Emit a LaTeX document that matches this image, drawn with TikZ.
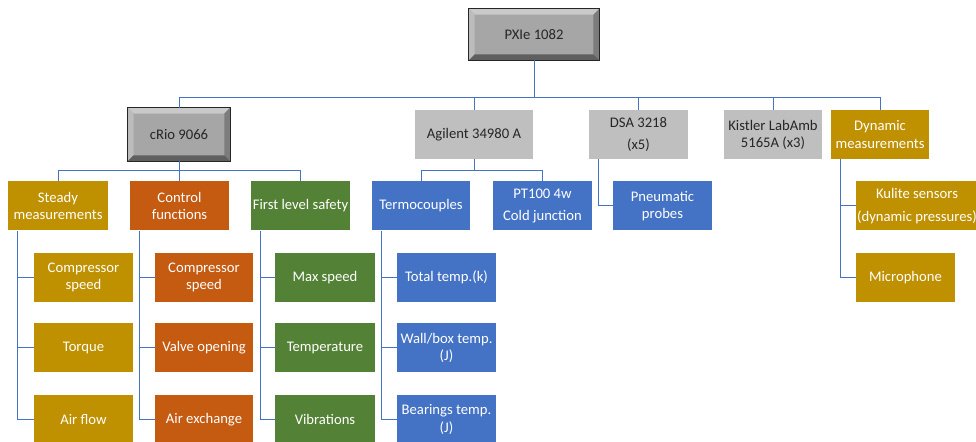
\documentclass[tikz,border=0pt]{standalone}
\usepackage{fontspec}
\setmainfont{Carlito}
\definecolor{cgold}{HTML}{BF9000}
\definecolor{corange}{HTML}{C55A11}
\definecolor{cgreen}{HTML}{538135}
\definecolor{cblue}{HTML}{4472C4}
\definecolor{cgray}{HTML}{BFBFBF}
\definecolor{cline}{HTML}{4472C4}
\definecolor{bvface}{HTML}{A6A6A6}
\definecolor{bvtop}{HTML}{C9C9C9}
\definecolor{bvleft}{HTML}{BCBCBC}
\definecolor{bvright}{HTML}{7C7C7C}
\definecolor{bvbottom}{HTML}{5F5F5F}
\definecolor{bvborder}{HTML}{262626}
\definecolor{ctext}{HTML}{262626}
\newcommand\bevelize[1]{%
  \fill[bvtop] (#1.north west) -- (#1.north east) -- ([shift={(-4.5pt,-4.5pt)}]#1.north east) -- ([shift={(4.5pt,-4.5pt)}]#1.north west) -- cycle;
  \fill[bvleft] (#1.north west) -- (#1.south west) -- ([shift={(4.5pt,4.5pt)}]#1.south west) -- ([shift={(4.5pt,-4.5pt)}]#1.north west) -- cycle;
  \fill[bvright] (#1.north east) -- (#1.south east) -- ([shift={(-4.5pt,4.5pt)}]#1.south east) -- ([shift={(-4.5pt,-4.5pt)}]#1.north east) -- cycle;
  \fill[bvbottom] (#1.south west) -- (#1.south east) -- ([shift={(-4.5pt,4.5pt)}]#1.south east) -- ([shift={(4.5pt,4.5pt)}]#1.south west) -- cycle;
  \draw[bvborder, line width=0.9pt] (#1.north west) rectangle (#1.south east);
}
\begin{document}
\begin{tikzpicture}[x=0.75pt,y=-0.75pt,
  box/.style={inner sep=0pt, align=center, font=\fontsize{11}{12.8}\selectfont, text=white},
  wide/.style={font=\fontsize{11}{17}\selectfont},
  sz/.style 2 args={minimum width=#1*0.75pt, minimum height=#2*0.75pt},
  gold/.style={box, fill=cgold},
  orange/.style={box, fill=corange},
  green/.style={box, fill=cgreen},
  blue/.style={box, fill=cblue},
  gray/.style={box, fill=cgray, text=ctext},
  bevel/.style={box, fill=bvface, text=ctext},
  conn/.style={draw=cline, line width=0.75pt}]
\useasboundingbox (0,0) rectangle (976,442);
\clip (0,0) rectangle (976,442);
\fill[white] (0,0) rectangle (976,442);

% top levels
\node[bevel, sz={130}{51}] (pxie) at (534,34.5) {};
\node[bevel, sz={102}{53}] (crio) at (179,134.5) {};
\bevelize{pxie}
\bevelize{crio}
\node[box, text=ctext] (pxiet) at (pxie.center) {PXIe 1082};
\node[box, text=ctext] (criot) at (crio.center) {cRio 9066};
\node[gray, sz={118}{49}] (agil) at (474,134.5) {Agilent 34980 A};
\node[gray, wide, sz={99}{49}] (dsa) at (638.5,134.5) {DSA 3218\\(x5)};
\node[gray, sz={98}{49}] (kist) at (773,134.5) {Kistler LabAmb\\5165A (x3)};
\node[gold, sz={98}{49}] (dyn) at (880,134.5) {Dynamic\\measurements};

% second row
\node[gold, sz={100}{49}] (steady) at (58,206) {Steady\\measurements};
\node[orange, sz={99}{49}] (ctrl) at (179.5,206) {Control\\functions};
\node[green, sz={99}{49}] (safe) at (300.5,206) {First level safety};
\node[blue, sz={98}{49}] (termo) at (421,206) {Termocouples};
\node[blue, wide, sz={99}{49}] (pt) at (542.5,206) {PT100 4w\\Cold junction};
\node[blue, sz={99}{49}] (pneu) at (662.5,206) {Pneumatic\\probes};
\node[gold, wide, sz={122}{49}] (kul) at (917,206) {Kulite sensors\\(dynamic pressures)};

% leaves
\node[gold, sz={99}{49}] (s1) at (83.5,277.5) {Compressor\\speed};
\node[gold, sz={99}{49}] (s2) at (83.5,348) {Torque};
\node[gold, sz={99}{49}] (s3) at (83.5,419.5) {Air flow};
\node[orange, sz={98}{49}] (c1) at (204,277.5) {Compressor\\speed};
\node[orange, sz={98}{49}] (c2) at (204,348) {Valve opening};
\node[orange, sz={98}{49}] (c3) at (204,419.5) {Air exchange};
\node[green, sz={100}{49}] (f1) at (325,277.5) {Max speed};
\node[green, sz={100}{49}] (f2) at (325,348) {Temperature};
\node[green, sz={100}{49}] (f3) at (325,419.5) {Vibrations};
\node[blue, sz={99}{49}] (t1) at (446.5,277.5) {Total temp.(k)};
\node[blue, sz={99}{49}] (t2) at (446.5,348) {Wall/box temp.\\(J)};
\node[blue, sz={99}{49}] (t3) at (446.5,419.5) {Bearings temp.\\(J)};
\node[gold, sz={99}{49}] (mic) at (905.5,277.5) {Microphone};

% buses
\coordinate (bus1) at (0,98);
\coordinate (bus2) at (0,171);

\draw[conn] (pxie.south) -- (pxie.south |- bus1);
\draw[conn] (crio.north) |- (dyn.north |- bus1) -- (dyn.north);
\draw[conn] (agil.north) -- (agil.north |- bus1);
\draw[conn] (dsa.north) -- (dsa.north |- bus1);
\draw[conn] (kist.north) -- (kist.north |- bus1);

\draw[conn] (crio.south) -- (crio.south |- bus2);
\draw[conn] (steady.north) |- (safe.north |- bus2) -- (safe.north);
\draw[conn] (ctrl.north) -- (ctrl.north |- bus2);

\draw[conn] (agil.south) -- (agil.south |- bus2);
\draw[conn] (termo.north) |- (pt.north |- bus2) -- (pt.north);

\draw[conn] ([xshift=7.5pt]dsa.south west) |- (pneu.west);

\foreach \c in {s1,s2,s3} \draw[conn] ([xshift=7.5pt]steady.south west) |- (\c.west);
\foreach \c in {c1,c2,c3} \draw[conn] ([xshift=7pt]ctrl.south west) |- (\c.west);
\foreach \c in {f1,f2,f3} \draw[conn] ([xshift=7pt]safe.south west) |- (\c.west);
\foreach \c in {t1,t2,t3} \draw[conn] ([xshift=7.5pt]termo.south west) |- (\c.west);
\foreach \c in {kul,mic} \draw[conn] ([xshift=7pt]dyn.south west) |- (\c.west);
\end{tikzpicture}
\end{document}
